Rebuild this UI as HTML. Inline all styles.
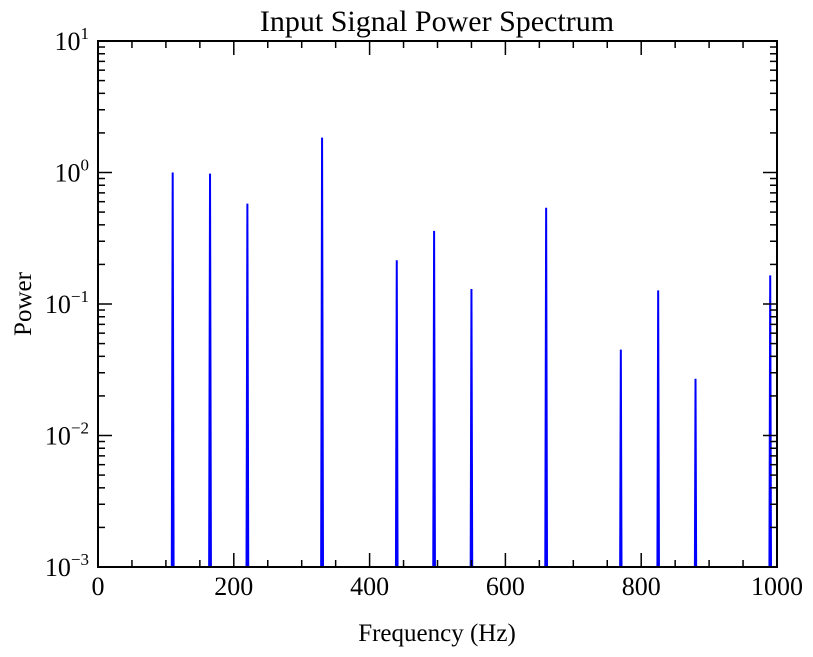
<!DOCTYPE html>
<html><head><meta charset="utf-8"><style>
html,body{margin:0;padding:0;background:#fff;overflow:hidden;width:813px;height:657px}
svg{display:block}
text{font-family:"Liberation Serif",serif;fill:#000}
</style></head><body>
<svg id="chart" width="813" height="657" xmlns="http://www.w3.org/2000/svg">
<defs><clipPath id="clip"><rect x="98" y="41" width="679" height="526"/></clipPath></defs>
<text x="437" y="31" font-size="30" text-anchor="middle">Input Signal Power Spectrum</text>
<text x="437" y="641" font-size="25" text-anchor="middle">Frequency (Hz)</text>
<text transform="translate(31,304) rotate(-90)" font-size="25" text-anchor="middle">Power</text>
<g id="series" clip-path="url(#clip)"></g>
<g id="axes"></g>
<rect x="98" y="41" width="679" height="526" fill="none" stroke="#000" stroke-width="2"/>
</svg>
<script>
const freqs=[110,165,220,330,440,495,550,660,770,825,880,990];
const powers=[1.0,0.98,0.58,1.84,0.215,0.36,0.13,0.54,0.045,0.127,0.027,0.165];
const xTicks=[0,200,400,600,800,1000];
const yExps=[-3,-2,-1,0,1];
const X0=98,X1=777,Y0=567,Y1=41;
const sx=v=>X0+(v/1000)*(X1-X0);
const sy=v=>Y0-(Math.log10(v)+3)/4*(Y0-Y1);
const NS="http://www.w3.org/2000/svg";
const ser=document.getElementById('series'),ax=document.getElementById('axes');
function mk(tag,attrs,parent){const e=document.createElementNS(NS,tag);for(const k in attrs)e.setAttribute(k,attrs[k]);parent.appendChild(e);return e;}
freqs.forEach((f,i)=>{
 const d=`M${sx(f-2.2)},${sy(1e-5)} L${sx(f)},${sy(powers[i])} L${sx(f+2.2)},${sy(1e-5)}`;
 const p=mk('path',{d:d,fill:'none',stroke:'#0000ff','stroke-width':2},ser);
 
 
});
for(let v=0;v<=1000;v+=50){
 const major=v%200===0,x=sx(v),L=major?14:7;
 mk('line',{x1:x,y1:Y0,x2:x,y2:Y0-L,stroke:'#000','stroke-width':1.5},ax);
 mk('line',{x1:x,y1:Y1,x2:x,y2:Y1+L,stroke:'#000','stroke-width':1.5},ax);
}
xTicks.forEach(v=>{
 const t=mk('text',{x:sx(v),y:595,'font-size':26,'text-anchor':'middle'},ax);
 t.textContent=v;
 
 
});
yExps.forEach(e=>{
 const y=sy(Math.pow(10,e));
 mk('line',{x1:X0,y1:y,x2:X0+14,y2:y,stroke:'#000','stroke-width':1.5},ax);
 mk('line',{x1:X1,y1:y,x2:X1-14,y2:y,stroke:'#000','stroke-width':1.5},ax);
 if(e<1)for(let m=2;m<10;m++){const yy=sy(m*Math.pow(10,e));
  mk('line',{x1:X0,y1:yy,x2:X0+7,y2:yy,stroke:'#000','stroke-width':1.5},ax);
  mk('line',{x1:X1,y1:yy,x2:X1-7,y2:yy,stroke:'#000','stroke-width':1.5},ax);}
 const t=mk('text',{x:89,y:y+9,'font-size':26,'text-anchor':'end'},ax);
 
 
 t.innerHTML='10<tspan dy="-11" font-size="17">'+e+'</tspan>';
 if(e<0)t.innerHTML='10<tspan dy="-11" font-size="17">\u2212'+(-e)+'</tspan>';
});
</script>
</body></html>
